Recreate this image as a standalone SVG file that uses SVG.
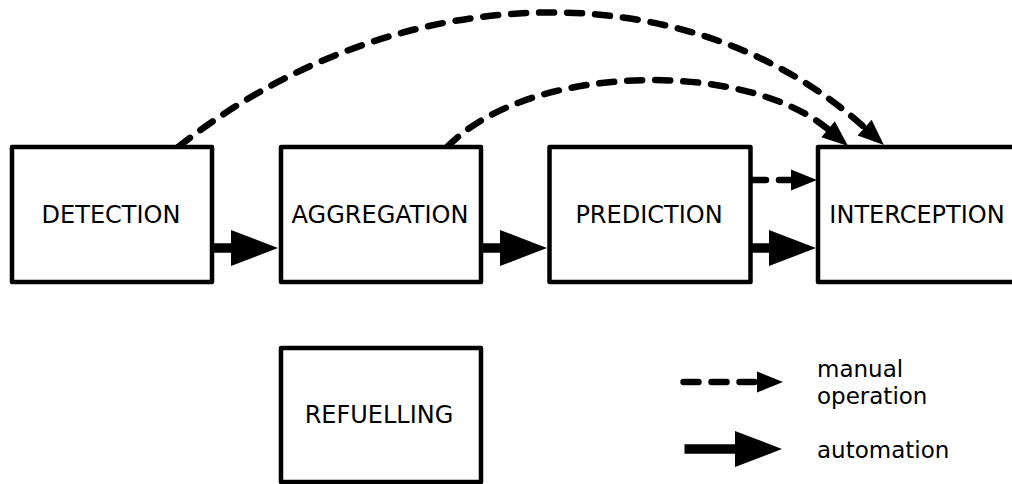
<svg xmlns="http://www.w3.org/2000/svg" width="1012" height="484" viewBox="0 0 1012 484">
  <style>
    .box { fill: #ffffff; stroke: #000000; stroke-width: 4.5; stroke-linejoin: round; }
    .lbl { font-family: "DejaVu Sans", "Noto Sans", sans-serif; font-size: 24px; fill: #000000; text-anchor: middle; }
    .leg { font-family: "DejaVu Sans", "Noto Sans", sans-serif; font-size: 23px; fill: #000000; }
    .auto { fill: none; stroke: #000000; stroke-width: 9.5; stroke-linecap: butt; }
    .manual { fill: none; stroke: #000000; stroke-width: 6.5; stroke-linecap: round; stroke-dasharray: 15 13; }
  </style>
  <defs>
    <marker id="headAuto" markerUnits="userSpaceOnUse" markerWidth="48" markerHeight="36" refX="0" refY="18" orient="auto" overflow="visible">
      <path d="M0,0 L47,18 L0,36 Z" fill="#000000"/>
    </marker>
    <marker id="headManual" markerUnits="userSpaceOnUse" markerWidth="27" markerHeight="21" refX="0" refY="10.5" orient="auto" overflow="visible">
      <path d="M0,0 L26,10.5 L0,21 Z" fill="#000000"/>
    </marker>
  </defs>
  <rect width="1012" height="484" fill="#ffffff"/>

  <g id="connectors">
    <path class="auto" d="M210,248 L231,248" marker-end="url(#headAuto)"/>
    <path class="auto" d="M479,248 L500,248" marker-end="url(#headAuto)"/>
    <path class="auto" d="M748,248 L769,248" marker-end="url(#headAuto)"/>
    <path class="manual" d="M751,180 L791,180" marker-end="url(#headManual)"/>
    <path class="manual" d="M178,147 C400,-28 690,-30 864.6,127.6" marker-end="url(#headManual)"/>
    <path class="manual" d="M447,147 C530,62 745,60 828.1,129.3" marker-end="url(#headManual)"/>
  </g>

  <g id="detection">
    <rect class="box" x="12" y="147" width="200" height="135"/>
    <text class="lbl" x="111" y="223">DETECTION</text>
  </g>
  <g id="aggregation">
    <rect class="box" x="281" y="147" width="200" height="135"/>
    <text class="lbl" x="380" y="223">AGGREGATION</text>
  </g>
  <g id="prediction">
    <rect class="box" x="549.5" y="147" width="201" height="135"/>
    <text class="lbl" x="649" y="223">PREDICTION</text>
  </g>
  <g id="interception">
    <rect class="box" x="818" y="147" width="200" height="135"/>
    <text class="lbl" x="917" y="223">INTERCEPTION</text>
  </g>
  <g id="refuelling">
    <rect class="box" x="281" y="348" width="200" height="134"/>
    <text class="lbl" x="379" y="423">REFUELLING</text>
  </g>

  <g id="legend">
    <path class="manual" d="M683.5,382 L757,382" marker-end="url(#headManual)"/>
    <path class="auto" d="M684.5,449 L735,449" stroke-linecap="round" marker-end="url(#headAuto)"/>
    <text class="leg" x="817" y="377">manual</text>
    <text class="leg" x="817" y="404">operation</text>
    <text class="leg" x="817" y="458">automation</text>
  </g>
</svg>
